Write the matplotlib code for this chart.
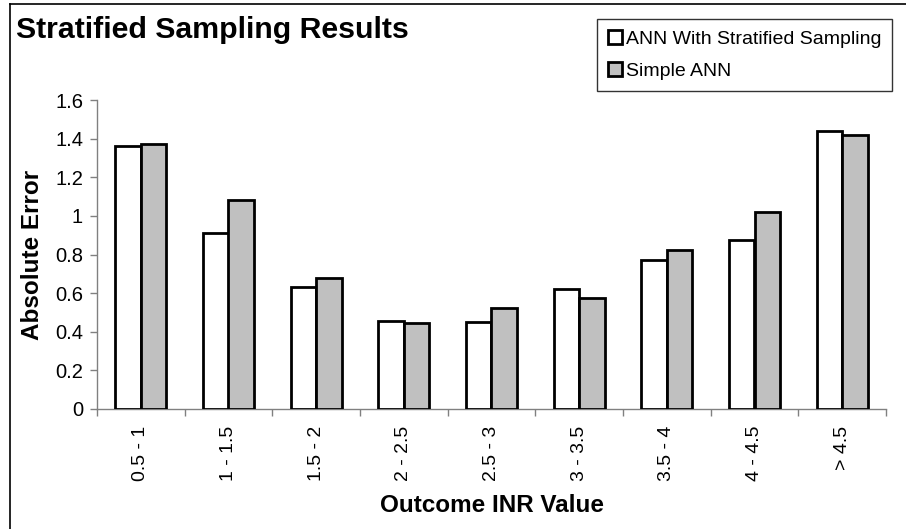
import matplotlib
matplotlib.use("Agg")
import matplotlib.pyplot as plt
from matplotlib.lines import Line2D
import numpy as np

plt.rcParams['font.family'] = ['Liberation Sans', 'DejaVu Sans']

# Data
categories = ["0.5 - 1", "1 - 1.5", "1.5 - 2", "2 - 2.5", "2.5 - 3",
              "3 - 3.5", "3.5 - 4", "4 - 4.5", "> 4.5"]
ann_stratified = [1.36, 0.91, 0.63, 0.455, 0.45, 0.62, 0.77, 0.875, 1.44]
simple_ann = [1.37, 1.08, 0.68, 0.445, 0.525, 0.575, 0.825, 1.02, 1.42]
yticks = [0, 0.2, 0.4, 0.6, 0.8, 1, 1.2, 1.4, 1.6]
ytick_labels = ["0", "0.2", "0.4", "0.6", "0.8", "1", "1.2", "1.4", "1.6"]

fig = plt.figure(figsize=(9.06, 5.29), dpi=100)
ax = fig.add_axes([97 / 906, 1 - 409 / 529, (886 - 97) / 906, (409 - 100) / 529])

x = np.arange(len(categories))
w = 0.29
b1 = ax.bar(x - w / 2, ann_stratified, w, color='white', edgecolor='black',
            linewidth=2.0, label='ANN With Stratified Sampling', zorder=3)
b2 = ax.bar(x + w / 2, simple_ann, w, color='#c0c0c0', edgecolor='black',
            linewidth=2.0, label='Simple ANN', zorder=3)

ax.set_xlim(-0.5, len(categories) - 0.5)
ax.set_ylim(0, 1.6)

# axes styling
for s in ['top', 'right']:
    ax.spines[s].set_visible(False)
for s in ['left', 'bottom']:
    ax.spines[s].set_color('#808080')
    ax.spines[s].set_linewidth(1.0)

ax.set_yticks(yticks)
ax.set_yticklabels(ytick_labels)
ax.tick_params(axis='y', length=5, width=1.0, color='#808080', pad=5, labelsize=14.5)

# major x ticks at group boundaries, labels at group centres
ax.set_xticks(np.arange(-0.5, len(categories), 1.0))
ax.set_xticklabels([])
ax.set_xticks(x, minor=True)
ax.set_xticklabels(categories, minor=True, rotation=90)
ax.tick_params(axis='x', which='major', length=5, width=1.0, color='#808080')
ax.tick_params(axis='x', which='minor', length=0, pad=12, labelsize=14)

ax.set_xlabel("Outcome INR Value", fontsize=17.5, fontweight='bold', labelpad=9)
ax.set_ylabel("Absolute Error", fontsize=17.5, fontweight='bold', labelpad=8)

fig.text(16 / 906, 1 - 30 / 529, "Stratified Sampling Results", fontsize=21.8,
         fontweight='bold', va='center', ha='left')

leg = fig.legend(handles=[b1, b2], loc='upper left',
                 bbox_to_anchor=(597 / 906, 1 - 19 / 529), fontsize=14,
                 frameon=True, fancybox=False, edgecolor='black',
                 handlelength=0.75, handleheight=0.75, handletextpad=0.2,
                 borderpad=0.55, labelspacing=0.75, borderaxespad=0)
leg.get_frame().set_linewidth(1.0)

# partial border around the chart area
fig.add_artist(Line2D([10 / 906, 10 / 906], [0, 1 - 4 / 529], color='black',
                      linewidth=1.2, transform=fig.transFigure))
fig.add_artist(Line2D([10 / 906, 1], [1 - 4 / 529, 1 - 4 / 529], color='black',
                      linewidth=1.2, transform=fig.transFigure))

fig.savefig("out.png", dpi=100)
